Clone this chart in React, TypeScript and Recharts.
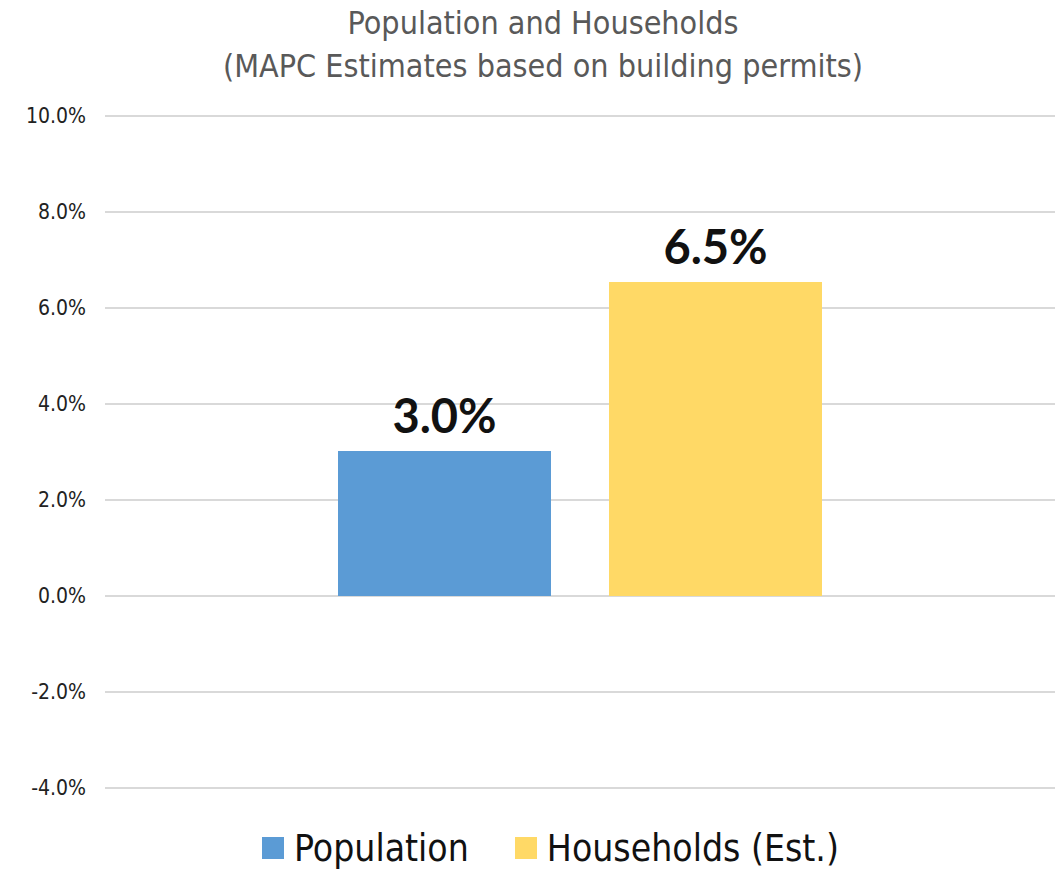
import { BarChart, Bar, YAxis, XAxis, CartesianGrid, LabelList, Legend } from "recharts";

const categories = ["Change"];
const seriesNames = ["Population", "Households (Est.)"];
const populationValues = [3.02];
const householdValues = [6.54];
const yTicks = [-4, -2, 0, 2, 4, 6, 8, 10];
const colors = ["#5B9BD5", "#FFD966"];

const data = categories.map((name, i) => ({
  name,
  population: populationValues[i],
  households: householdValues[i],
}));

const narrow = "'Liberation Sans Narrow', 'DejaVu Sans Condensed', sans-serif";

function LegendContent() {
  return (
    <div style={{ display: "flex", justifyContent: "center", alignItems: "center", fontFamily: narrow, fontSize: 37, color: "#111", height: 40, paddingLeft: 40 }}>
      {seriesNames.map((s, i) => (
        <div key={s} style={{ display: "flex", alignItems: "center", marginRight: i === 0 ? 46 : 0 }}>
          <span style={{ display: "inline-block", width: 22, height: 22, background: colors[i], marginRight: 10 }} />
          <span>{s}</span>
        </div>
      ))}
    </div>
  );
}

const labelStyle = { fill: "#111", fontSize: 47, fontWeight: 700, fontFamily: "Lato, sans-serif" };

export default function App() {
  return (
    <div style={{ position: "absolute", left: 0, top: 0, width: 1061, height: 869, background: "#fff" }}>
      <div
        style={{
          position: "absolute",
          left: 0,
          top: 2,
          width: 1086,
          textAlign: "center",
          fontFamily: narrow,
          fontSize: 32,
          lineHeight: "43px",
          color: "#595959",
        }}
      >
        Population and Households
        <br />
        (MAPC Estimates based on building permits)
      </div>
      <BarChart
        width={1061}
        height={869}
        data={data}
        margin={{ top: 116, right: 6, bottom: 41, left: 0 }}
        barSize={213}
        barGap={58}
      >
        <CartesianGrid vertical={false} stroke="#D9D9D9" strokeWidth={2} />
        <XAxis dataKey="name" hide />
        <YAxis
          width={105}
          domain={[-4, 10]}
          ticks={yTicks}
          interval={0}
          axisLine={false}
          tickLine={false}
          tickSize={0}
          tickMargin={19}
          tickFormatter={(v: number) => v.toFixed(1) + "%"}
          tick={{ fill: "#222", fontSize: 21, fontFamily: narrow }}
        />
        <Legend
          verticalAlign="bottom"
          height={40}
          content={<LegendContent />}
          wrapperStyle={{ bottom: 1, left: 0, width: 1061 }}
        />
        <Bar dataKey="population" name={seriesNames[0]} fill={colors[0]} isAnimationActive={false}>
          <LabelList
            dataKey="population"
            position="top"
            offset={18}
            formatter={(v: number) => v.toFixed(1) + "%"}
            style={labelStyle}
          />
        </Bar>
        <Bar dataKey="households" name={seriesNames[1]} fill={colors[1]} isAnimationActive={false}>
          <LabelList
            dataKey="households"
            position="top"
            offset={18}
            formatter={(v: number) => v.toFixed(1) + "%"}
            style={labelStyle}
          />
        </Bar>
      </BarChart>
    </div>
  );
}
